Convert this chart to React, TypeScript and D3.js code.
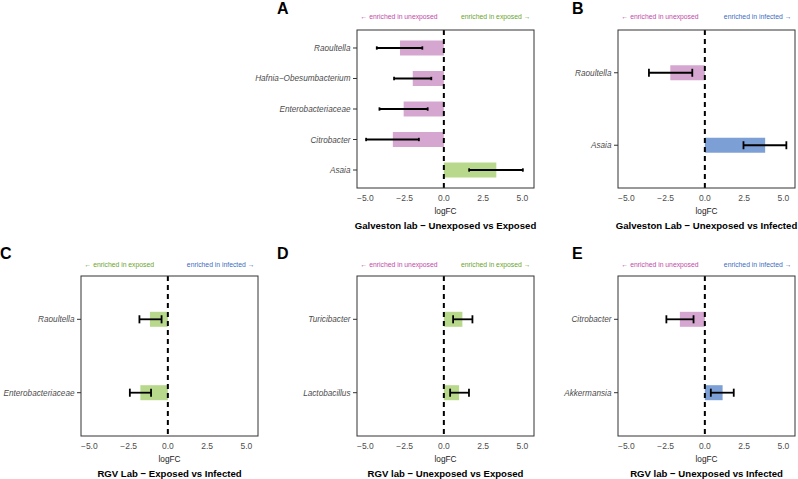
import React from 'react';
import * as d3 from 'd3';

// panel A: Galveston lab, unexposed vs exposed
const aTaxa = ['Raoultella', 'Hafnia−Obesumbacterium', 'Enterobacteriaceae', 'Citrobacter', 'Asaia'];
const aLogFC = [-2.79, -1.98, -2.56, -3.25, 3.34];
const aLow = [-4.27, -3.17, -4.1, -4.95, 1.61];
const aHigh = [-1.37, -0.8, -1.03, -1.59, 5.03];

// panel B: Galveston lab, unexposed vs infected
const bTaxa = ['Raoultella', 'Asaia'];
const bLogFC = [-2.2, 3.84];
const bLow = [-3.56, 2.46];
const bHigh = [-0.8, 5.19];

// panel C: RGV lab, exposed vs infected
const cTaxa = ['Raoultella', 'Enterobacteriaceae'];
const cLogFC = [-1.14, -1.75];
const cLow = [-1.81, -2.42];
const cHigh = [-0.4, -1.07];

// panel D: RGV lab, unexposed vs exposed
const dTaxa = ['Turicibacter', 'Lactobacillus'];
const dLogFC = [1.18, 0.97];
const dLow = [0.59, 0.4];
const dHigh = [1.82, 1.6];

// panel E: RGV lab, unexposed vs infected
const eTaxa = ['Citrobacter', 'Akkermansia'];
const eLogFC = [-1.59, 1.13];
const eLow = [-2.45, 0.38];
const eHigh = [-0.72, 1.84];

const xTicks = [-5, -2.5, 0, 2.5, 5];

const barColor: Record<string, string> = {
  unexposed: '#d5a6cf',
  exposed: '#b8d98c',
  infected: '#7c9fd6',
};
const textColor: Record<string, string> = {
  unexposed: '#c24aa8',
  exposed: '#6aa52e',
  infected: '#3d6cc2',
};

const panels = [
  { letter: 'A', col: 1, row: 0, taxa: aTaxa, fc: aLogFC, lo: aLow, hi: aHigh, left: 'unexposed', right: 'exposed', title: 'Galveston lab − Unexposed vs Exposed' },
  { letter: 'B', col: 2, row: 0, taxa: bTaxa, fc: bLogFC, lo: bLow, hi: bHigh, left: 'unexposed', right: 'infected', title: 'Galveston Lab − Unexposed vs Infected' },
  { letter: 'C', col: 0, row: 1, taxa: cTaxa, fc: cLogFC, lo: cLow, hi: cHigh, left: 'exposed', right: 'infected', title: 'RGV Lab − Exposed vs Infected' },
  { letter: 'D', col: 1, row: 1, taxa: dTaxa, fc: dLogFC, lo: dLow, hi: dHigh, left: 'unexposed', right: 'exposed', title: 'RGV lab − Unexposed vs Exposed' },
  { letter: 'E', col: 2, row: 1, taxa: eTaxa, fc: eLogFC, lo: eLow, hi: eHigh, left: 'unexposed', right: 'infected', title: 'RGV lab − Unexposed vs Infected' },
];

const colBoxX = [81, 357, 618];
const colLetterX = [0, 277, 572];
const rowBoxTop = [30, 276];
const rowBoxBottom = [188, 436];
const rowLetterY = [14, 258.5];
const rowHeaderY = [18.5, 266.5];
const boxW = 177;
const font = 'Liberation Sans, Arial, Helvetica, sans-serif';

const Panel: React.FC<{ p: typeof panels[number] }> = ({ p }) => {
  const x0 = colBoxX[p.col];
  const top = rowBoxTop[p.row];
  const bottom = rowBoxBottom[p.row];
  const x = d3.scaleLinear().domain([-5.53, 5.74]).range([x0, x0 + boxW]);
  const y = d3.scalePoint<string>().domain(p.taxa).range([top, bottom]).padding(0.59);
  const step = y.step();
  const cap = step * 0.055;
  const barH = 15;
  const fmt = d3.format('.1f');

  return (
    <g fontFamily={font}>
      <text x={colLetterX[p.col]} y={rowLetterY[p.row]} fontSize={16} fontWeight="bold" fill="#000">{p.letter}</text>
      <text x={x0 + 3.5} y={rowHeaderY[p.row]} fontSize={6.8} fill={textColor[p.left]}>{'← enriched in ' + p.left}</text>
      <text x={x0 + boxW - 3.5} y={rowHeaderY[p.row]} fontSize={6.8} fill={textColor[p.right]} textAnchor="end">{'enriched in ' + p.right + ' →'}</text>

      {p.taxa.map((t, i) => {
        const v = p.fc[i];
        const cy = y(t)!;
        return (
          <g key={t}>
            <rect x={x(Math.min(0, v))} y={cy - barH / 2} width={Math.abs(x(v) - x(0))} height={barH}
              fill={v < 0 ? barColor[p.left] : barColor[p.right]} />
          </g>
        );
      })}

      <line x1={x(0)} x2={x(0)} y1={top} y2={bottom} stroke="#000" strokeWidth={2} strokeDasharray="5,4" />

      {p.taxa.map((t, i) => {
        const cy = y(t)!;
        return (
          <g key={t} stroke="#000" strokeWidth={1.8}>
            <line x1={x(p.lo[i])} x2={x(p.hi[i])} y1={cy} y2={cy} />
            <line x1={x(p.lo[i])} x2={x(p.lo[i])} y1={cy - cap} y2={cy + cap} />
            <line x1={x(p.hi[i])} x2={x(p.hi[i])} y1={cy - cap} y2={cy + cap} />
          </g>
        );
      })}

      <rect x={x0} y={top} width={boxW} height={bottom - top} fill="none" stroke="#333" strokeWidth={1} />

      {p.taxa.map(t => (
        <g key={t}>
          <line x1={x0 - 4} x2={x0} y1={y(t)} y2={y(t)} stroke="#333" strokeWidth={1} />
          <text x={x0 - 6.5} y={y(t)! + 3} fontSize={8.2} fontStyle="italic" fill="#4d4d4d" textAnchor="end">{t}</text>
        </g>
      ))}

      {xTicks.map(v => (
        <text key={v} x={x(v)} y={bottom + 13} fontSize={8.5} fill="#4d4d4d" textAnchor="middle">
          {fmt(v).replace('-', '−')}
        </text>
      ))}
      <text x={x0 + boxW / 2} y={bottom + 25.5} fontSize={8.3} fill="#222" textAnchor="middle">logFC</text>
      <text x={x0 + boxW / 2} y={bottom + 41} fontSize={9.6} fontWeight="bold" fill="#000" textAnchor="middle">{p.title}</text>
    </g>
  );
};

const App: React.FC = () => (
  <svg width={798} height={479} style={{ position: 'absolute', left: 0, top: 0, background: '#fff' }}>
    {panels.map(p => <Panel key={p.letter} p={p} />)}
  </svg>
);

export default App;
